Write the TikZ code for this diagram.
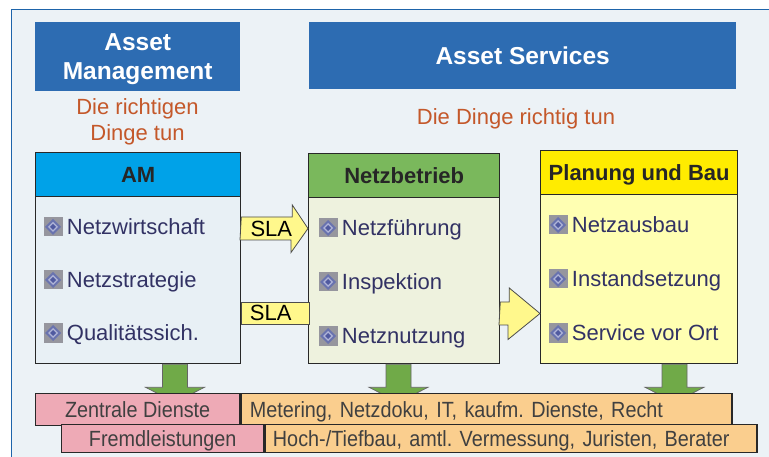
\documentclass[tikz,border=0pt]{standalone}
\usepackage{fontspec}
\setmainfont{Liberation Sans}
\newfontfamily\narrowfont[FakeStretch=0.9]{Liberation Sans}
\usetikzlibrary{positioning,calc}
\frenchspacing

\definecolor{titleblue}{RGB}{45,108,178}
\definecolor{amhead}{RGB}{0,162,232}
\definecolor{ambody}{RGB}{232,240,245}
\definecolor{nbhead}{RGB}{122,184,92}
\definecolor{nbbody}{RGB}{238,242,222}
\definecolor{pbhead}{RGB}{255,236,0}
\definecolor{pbbody}{RGB}{255,255,178}
\definecolor{slafill}{RGB}{255,248,140}
\definecolor{downgreen}{RGB}{112,170,72}
\definecolor{pinkbar}{RGB}{238,170,182}
\definecolor{orangebar}{RGB}{250,206,142}
\definecolor{mottocol}{RGB}{196,88,42}
\definecolor{itemcol}{RGB}{50,50,100}
\definecolor{bgcol}{RGB}{236,242,246}
\definecolor{framecol}{RGB}{30,100,170}
\definecolor{boxline}{RGB}{40,40,40}
\definecolor{bulgrey}{RGB}{150,150,158}
\definecolor{bulring}{RGB}{105,115,175}
\definecolor{bulpale}{RGB}{175,180,215}
\definecolor{bulblue}{RGB}{80,90,160}

\tikzset{
    every node/.style={text depth=0pt},
    titlebox/.style={anchor=north west, fill=titleblue, text=white, align=center, inner sep=0pt,
        font=\fontsize{24.5}{29}\selectfont\bfseries},
    motto/.style={text=mottocol, align=center, font=\fontsize{22}{26}\selectfont},
    box/.style={draw=boxline, line width=1.3pt, anchor=north west, inner sep=0pt},
    headbox/.style={box, minimum height=44pt, text=black!85, font=\fontsize{22}{26}\selectfont\bfseries},
    bul/.style={minimum size=19pt, inner sep=0pt, fill=bulgrey, path picture={
        \fill[bulring] ([yshift=-1.5pt]path picture bounding box.north) -- ([xshift=-1.5pt]path picture bounding box.east)
            -- ([yshift=1.5pt]path picture bounding box.south) -- ([xshift=1.5pt]path picture bounding box.west) -- cycle;
        \fill[bulpale] ([yshift=-4.5pt]path picture bounding box.north) -- ([xshift=-4.5pt]path picture bounding box.east)
            -- ([yshift=4.5pt]path picture bounding box.south) -- ([xshift=4.5pt]path picture bounding box.west) -- cycle;
        \fill[bulblue] ([yshift=-6.5pt]path picture bounding box.north) -- ([xshift=-6.5pt]path picture bounding box.east)
            -- ([yshift=6.5pt]path picture bounding box.south) -- ([xshift=6.5pt]path picture bounding box.west) -- cycle;
    }},
    item/.style={text=itemcol, inner sep=1pt, font=\fontsize{22}{26}\selectfont},
    slaarrow/.style={draw=black!70, line width=0.8pt, fill=slafill},
    slatext/.style={inner sep=0pt, font=\fontsize{22}{26}\selectfont},
    downarrow/.style={draw=black!60, line width=0.7pt, fill=downgreen},
    bar/.style={draw=boxline, line width=1.3pt, inner ysep=0pt, text=black!75, font=\narrowfont\fontsize{22}{26}\selectfont}
}

\begin{document}
\begin{tikzpicture}[x=1pt,y=-1pt]
    \useasboundingbox (0,0) rectangle (769,457);
    \fill[white] (0,0) rectangle (769,457);
    \fill[bgcol] (11,10) rectangle (769,457);
    \draw[framecol, line width=1pt] (769,10) -- (11,10) -- (11,457);

    % titles
    \node[titlebox, minimum width=205pt, minimum height=69pt] (amtitle) at (35,22) {Asset\\Management};
    \node[titlebox, minimum width=427pt, minimum height=67pt] (astitle) at (309,22) {Asset Services};
    \node[motto] (ammotto) at (137.5,120) {Die richtigen\\Dinge tun};
    \node[motto] (asmotto) at (516,117) {Die Dinge richtig tun};

    % boxes
    \node[box, fill=ambody, minimum width=205pt, minimum height=211pt] (am) at (35,152) {};
    \node[headbox, fill=amhead, minimum width=205pt] (amh) at (am.north west) {AM};
    \node[box, fill=nbbody, minimum width=191pt, minimum height=210pt] (nb) at (308,153) {};
    \node[headbox, fill=nbhead, minimum width=191pt] (nbh) at (nb.north west) {Netzbetrieb};
    \node[box, fill=pbbody, minimum width=197pt, minimum height=213pt] (pb) at (540,150) {};
    \node[headbox, fill=pbhead, minimum width=197pt] (pbh) at (pb.north west) {Planung und Bau};

    \foreach \lbl [count=\i] in {Netzwirtschaft,Netzstrategie,Qualitätssich.} {
        \node[bul] (am\i) at (53,174+53*\i) {};
        \node[item, right=3pt of am\i] {\lbl};
    }
    \foreach \lbl [count=\i] in {Netzführung,Inspektion,Netznutzung} {
        \node[bul] (nb\i) at (328,174+54*\i) {};
        \node[item, right=3pt of nb\i] {\lbl};
    }
    \foreach \lbl [count=\i] in {Netzausbau,Instandsetzung,Service vor Ort} {
        \node[bul] (pb\i) at (558,171+54*\i) {};
        \node[item, right=3pt of pb\i] {\lbl};
    }

    % SLA arrows
    \coordinate (sla1) at (0,228.5);
    \coordinate (sla2) at (0,313);
    \coordinate (nbpb) at (0,313.5);
    \draw[slaarrow] (am.east |- sla1) ++(0,-11.5) -- ++(51,0) -- ++(0,-12) -- (nb.west |- sla1)
        -- ++(-17,24) -- ++(0,-12.5) -- ++(-51,0) -- cycle;
    \node[slatext] at ($(am.east |- sla1)!0.45!(nb.west |- sla1)$) {SLA};
    \draw[slaarrow] (am.east |- sla2) ++(0,-11) rectangle ++(68,22);
    \node[slatext] at ($(am.east |- sla2)!0.44!(nb.west |- sla2)$) {SLA};
    \draw[slaarrow] (nb.east |- nbpb) ++(0,-11.5) -- ++(9,0) -- ++(0,-14) -- (pb.west |- nbpb)
        -- ++(-32,26) -- ++(0,-14.5) -- ++(-9,0) -- cycle;

    % down arrows
    \foreach \b/\x in {am/175,nb/398.5,pb/674.5}
        \draw[downarrow] (\x,0 |- \b.south) ++(-12.5,0) -- ++(0,23) -- ++(-17,0) -- ++(29.5,15)
            -- ++(29.5,-15) -- ++(-17,0) -- ++(0,-23) -- cycle;

    % service bars
    \node[bar, fill=pinkbar, minimum width=204pt, minimum height=32pt, anchor=north west] (zd) at (35,393) {Zentrale Dienste};
    \node[bar, fill=orangebar, minimum height=32pt, text width=473pt, inner xsep=9pt, align=left, anchor=west] (zdl) at (zd.east)
        {Metering, Netzdoku, IT, kaufm. Dienste, Recht};
    \node[bar, fill=pinkbar, minimum width=202pt, minimum height=28pt, anchor=north west] (fl) at (61,424) {Fremdleistungen};
    \node[bar, fill=orangebar, minimum height=28pt, text width=476pt, inner xsep=8pt, align=left, anchor=west] (fll) at (fl.east)
        {Hoch-/Tiefbau, amtl. Vermessung, Juristen, Berater};
\end{tikzpicture}
\end{document}
